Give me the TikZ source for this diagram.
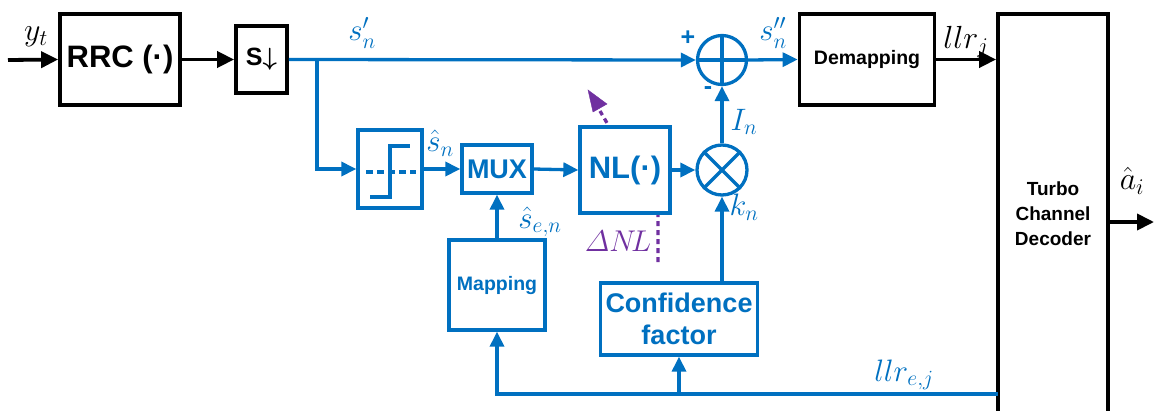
\RequirePackage{fix-cm}
\documentclass[tikz,border=0pt]{standalone}
\usepackage{amsmath}
\usepackage{fontspec}
\setmainfont{Liberation Sans}
\usetikzlibrary{arrows.meta,calc}
\definecolor{myblue}{RGB}{0,112,192}
\definecolor{mypurple}{RGB}{112,48,160}
\begin{document}
\begin{tikzpicture}[x=1pt,y=-1pt,
  bbox/.style={draw=black,line width=3.8pt,fill=white,inner sep=0pt,align=center,font=\bfseries},
  bluebox/.style={draw=myblue,line width=3.3pt,fill=white,inner sep=0pt,align=center,text=myblue,font=\bfseries},
  kline/.style={line width=3.8pt,draw=black,-{Triangle[length=17pt,width=16pt]}},
  bline/.style={line width=3.3pt,draw=myblue,-{Triangle[length=15pt,width=14pt]}},
  circ/.style={circle,draw=myblue,line width=3.3pt,fill=white,inner sep=0pt},
  mlab/.style={text=myblue,inner sep=0pt,font=\fontsize{31}{31}\selectfont},
  klab/.style={text=black,inner sep=0pt,font=\fontsize{32}{32}\selectfont}
]
\useasboundingbox (0,0) rectangle (1154,410);

% purple adjustable arrow (behind NL box)
\draw[mypurple,line width=3.3pt,dash pattern=on 5pt off 4pt] (658,262) -- (658,210) -- (600,111);
\draw[mypurple,fill=mypurple] (588,90) -- (607,104) -- (593,112) -- cycle;

% black boxes
\node[bbox,minimum width=120pt,minimum height=91pt,font=\bfseries\fontsize{31}{33}\selectfont] (rrc) at (120,59.5) {RRC (·)};
\node[bbox,minimum width=51pt,minimum height=67pt,font=\bfseries\fontsize{25}{27}\selectfont] (sd) at (261.5,59.5) {S$\boldsymbol{\downarrow}$};
\node[bbox,minimum width=135pt,minimum height=91pt,font=\bfseries\fontsize{19.5}{22}\selectfont] (demap) at (867,59.5) {Demapping};
\node[bbox,minimum width=110pt,minimum height=430pt] (dec) at (1053,229) {};
\node[inner sep=0pt,align=center,font=\bfseries\fontsize{19}{25}\selectfont] (dectext) at (1053,214) {Turbo\\Channel\\Decoder};

% blue boxes
\node[bluebox,minimum width=64pt,minimum height=78pt] (thr) at (390,169) {};
\node[bluebox,minimum width=70pt,minimum height=48pt,font=\bfseries\fontsize{27}{29}\selectfont] (mux) at (497,169) {MUX};
\node[bluebox,minimum width=90pt,minimum height=86pt,font=\bfseries\fontsize{31}{33}\selectfont] (nl) at (625,170) {NL(·)};
\node[bluebox,minimum width=96pt,minimum height=90pt,font=\bfseries\fontsize{19.5}{22}\selectfont] (map) at (497,285) {Mapping};
\node[bluebox,minimum width=157pt,minimum height=72pt,font=\bfseries\fontsize{27}{32}\selectfont] (conf) at (679,319) {Confidence\\factor};

% threshold symbol
\draw[myblue,line width=3.3pt] (370,197) -- (390,197) -- (390,146) -- (410,146);
\draw[myblue,line width=3.3pt,dash pattern=on 7pt off 4pt] (366,172) -- (416,172);

% circles
\node[circ,minimum size=49pt] (plus) at (722,60) {};
\draw[myblue,line width=3.3pt] (plus.north) -- (plus.south) (plus.west) -- (plus.east);
\node[circ,minimum size=50pt] (mult) at (722,170) {};
\draw[myblue,line width=3.3pt] (mult.north east) -- (mult.south west) (mult.north west) -- (mult.south east);

% coordinates
\coordinate (in) at (8,60);
\coordinate (br) at (317,60);
\coordinate (fb) at (998,394);
\coordinate (out) at (1154,222);

% black connectors
\draw[kline] (in) -- (rrc.west);
\draw[kline] (rrc.east) -- (sd.west);
\draw[kline] (demap.east) -- (demap.east -| dec.west);
\draw[kline] (dec.east |- out) -- (out);

% blue connectors
\draw[bline] (sd.east) -- (plus.west);
\draw[bline] (br) |- (thr.west);
\draw[bline] (thr.east) -- (mux.west);
\draw[bline] (mux.east) -- (nl.west);
\draw[bline] (nl.east |- mult.west) -- (mult.west);
\draw[bline] (mult.north) -- (plus.south);
\draw[bline] (conf.north -| mult.south) -- (mult.south);
\draw[bline] (plus.east) -- (demap.west);
\draw[bline] (map.north) -- (mux.south);
\draw[bline] (fb) -| (map.south);
\draw[bline] (conf.south |- fb) -- (conf.south);

% labels
\node[klab] (lyt) at (36,37) {$y_t$};
\node[mlab] (lsp) at (362,33) {$s'_n$};
\node[mlab] (lsh) at (440,143) {$\hat{s}_n$};
\node[mlab] (lsen) at (540,222) {$\hat{s}_{e,n}$};
\node[mlab] (lin) at (744,122) {$I_n$};
\node[mlab] (lkn) at (744,207) {$k_n$};
\node[text=mypurple,inner sep=0pt,font=\fontsize{30}{30}\selectfont] (ldnl) at (618,241) {$\varDelta N\!L$};
\node[mlab] (lspp) at (773,33) {$s''_n$};
\node[klab] (lllr) at (966,42) {$llr_j$};
\node[mlab] (llre) at (904,375) {$llr_{e,j}$};
\node[klab] (lai) at (1132,181) {$\hat{a}_i$};
\node[text=myblue,inner sep=0pt,font=\bfseries\fontsize{25}{25}\selectfont] (lplus) at (688,38) {+};
\node[text=myblue,inner sep=0pt,font=\bfseries\fontsize{25}{25}\selectfont] (lminus) at (708,91) {-};
\end{tikzpicture}
\end{document}
